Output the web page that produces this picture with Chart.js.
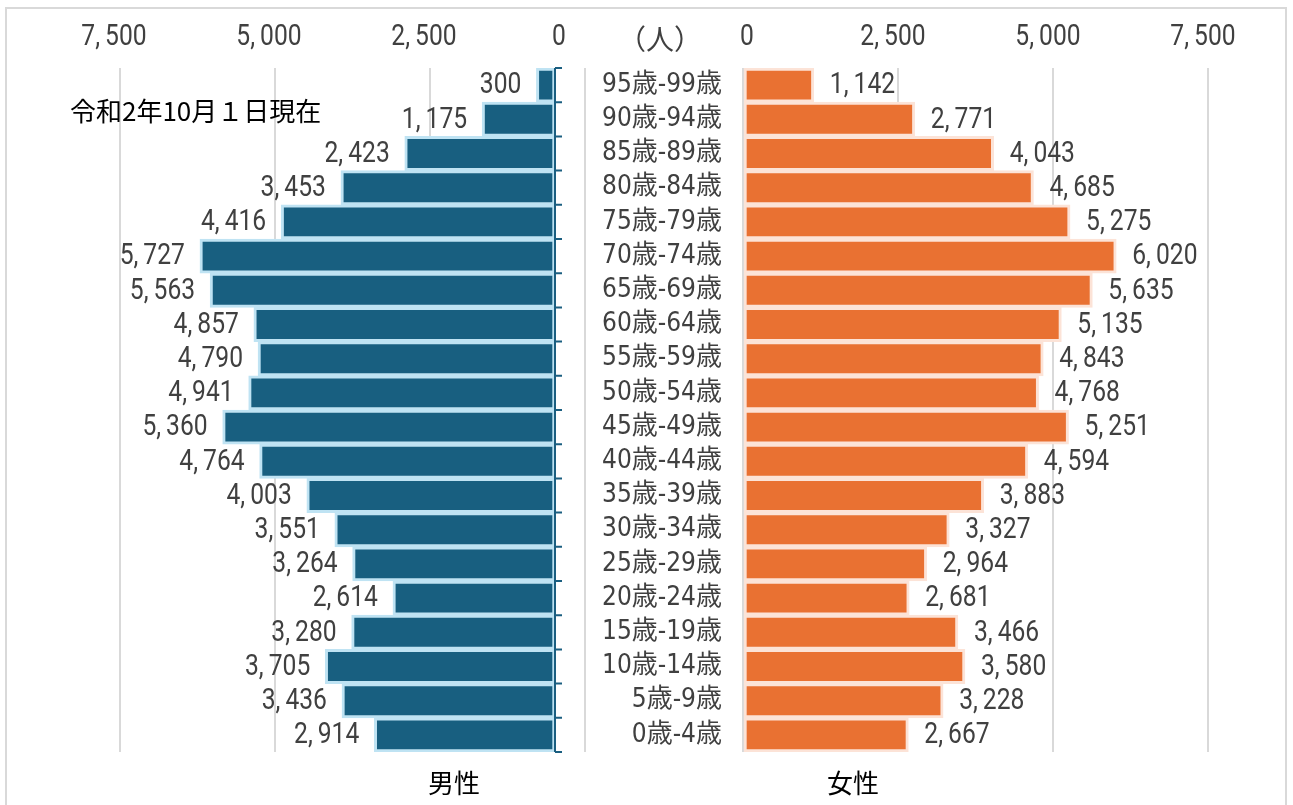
<!DOCTYPE html>
<html>
<head>
<meta charset="utf-8">
<script src="https://cdn.jsdelivr.net/npm/chart.js@4.4.0/dist/chart.umd.min.js"></script>
<style>
  html, body { margin: 0; padding: 0; background: #fff; }
  #wrap { position: relative; width: 1293px; height: 805px; overflow: hidden; background: #fff; }
  #frame { position: absolute; left: 5px; top: 7px; width: 1282px; height: 820px; border: 2px solid #d9d9d9; box-sizing: border-box; }
  #cl { position: absolute; left: 0; top: 0; }
  #cr { position: absolute; left: 580px; top: 0; }
  .t { position: absolute; white-space: nowrap; font-family: 'Noto Sans CJK JP', sans-serif; line-height: 1; }
</style>
</head>
<body>
<div id="wrap">
  <div id="frame"></div>
  <canvas id="cl" width="590" height="805"></canvas>
  <canvas id="cr" width="713" height="805"></canvas>
  <div class="t" style="left:70px; top:97px; font-size:26px; color:#000;">令和2年10月１日現在</div>
  <div class="t" style="left:618px; top:24px; font-size:28px; color:#404040;">（人）</div>
  <div class="t" style="left:428px; top:769px; font-size:26px; color:#000;">男性</div>
  <div class="t" style="left:827px; top:769px; font-size:26px; color:#000;">女性</div>
</div>
<script>
const ageGroups = ['95歳-99歳','90歳-94歳','85歳-89歳','80歳-84歳','75歳-79歳','70歳-74歳','65歳-69歳','60歳-64歳','55歳-59歳','50歳-54歳','45歳-49歳','40歳-44歳','35歳-39歳','30歳-34歳','25歳-29歳','20歳-24歳','15歳-19歳','10歳-14歳','5歳-9歳','0歳-4歳'];
const maleValues = [300,1175,2423,3453,4416,5727,5563,4857,4790,4941,5360,4764,4003,3551,3264,2614,3280,3705,3436,2914];
const femaleValues = [1142,2771,4043,4685,5275,6020,5635,5135,4843,4768,5251,4594,3883,3327,2964,2681,3466,3580,3228,2667];
const xTicks = [0, 2500, 5000, 7500];

const TXT = '#404040';
const NUM_FONT = "29px Roboto, 'Noto Sans', sans-serif";
const SQUEEZE = 0.85;
const fmt = v => Math.round(v).toLocaleString('en-US').replace(',', ',\u2009');

function drawNum(ctx, text, x, y, align) {
  ctx.save();
  ctx.translate(x, y);
  ctx.scale(SQUEEZE, 1);
  ctx.font = NUM_FONT;
  ctx.fillStyle = TXT;
  ctx.textBaseline = 'middle';
  ctx.textAlign = align;
  ctx.fillText(text, 0, 0);
  ctx.restore();
}

function labelPlugin(side) {
  return {
    id: 'valLabels' + side,
    afterDatasetsDraw(chart) {
      const ctx = chart.ctx;
      const meta = chart.getDatasetMeta(0);
      const data = chart.data.datasets[0].data;
      meta.data.forEach((el, i) => {
        if (side === 'L') drawNum(ctx, fmt(data[i]), el.x - 15, el.y + 1, 'right');
        else drawNum(ctx, fmt(data[i]), el.x + 16, el.y + 1, 'left');
      });
    }
  };
}

function tickPlugin(gridScaleId, zeroScaleId, shift) {
  return {
    id: 'tickLabels' + gridScaleId,
    afterDraw(chart) {
      const ctx = chart.ctx;
      const gs = chart.scales[gridScaleId];
      const zs = chart.scales[zeroScaleId];
      xTicks.forEach(v => {
        const px = (v === 0) ? zs.getPixelForValue(0) + 4 : gs.getPixelForValue(v) + shift;
        drawNum(ctx, fmt(v), px, 38, 'center');
      });
    }
  };
}

const axisPlugin = {
  id: 'leftAxis',
  afterDatasetsDraw(chart) {
    const ctx = chart.ctx;
    const xs = chart.scales.x, ys = chart.scales.y;
    const x0 = xs.getPixelForValue(0);
    ctx.save();
    ctx.strokeStyle = '#1a5e80';
    ctx.lineWidth = 2;
    ctx.beginPath();
    ctx.moveTo(x0, ys.top); ctx.lineTo(x0, ys.bottom);
    const n = ageGroups.length;
    for (let i = 0; i <= n; i++) {
      const y = ys.top + (ys.bottom - ys.top) * i / n;
      ctx.moveTo(x0, y); ctx.lineTo(x0 + 7, y);
    }
    ctx.stroke();
    ctx.restore();
  }
};

Chart.defaults.animation = false;
Chart.defaults.color = TXT;

new Chart(document.getElementById('cl'), {
  type: 'bar',
  data: {
    labels: ageGroups,
    datasets: [{
      data: maleValues,
      backgroundColor: '#185f80',
      borderColor: '#bfe3f3',
      borderWidth: 3,
      borderSkipped: false,
      barPercentage: 1,
      categoryPercentage: 1,
      xAxisID: 'x'
    }]
  },
  options: {
    responsive: false,
    indexAxis: 'y',
    layout: { padding: { left: 90, right: 5, top: 0, bottom: 53 } },
    plugins: { legend: { display: false }, tooltip: { enabled: false } },
    scales: {
      x: { display: false, reverse: true, min: -484, max: 7500 },
      xg: {
        axis: 'x', position: 'top', reverse: true, min: 0, max: 7984,
        afterBuildTicks: s => { s.ticks = xTicks.map(v => ({ value: v })); },
        afterFit: s => { s.height = 68; },
        ticks: { display: false },
        grid: { color: '#d9d9d9', lineWidth: 2, drawTicks: false },
        border: { display: false }
      },
      y: { display: false }
    }
  },
  plugins: [labelPlugin('L'), axisPlugin, tickPlugin('xg', 'x', -6)]
});

new Chart(document.getElementById('cr'), {
  type: 'bar',
  data: {
    labels: ageGroups,
    datasets: [{
      data: femaleValues,
      backgroundColor: '#e97132',
      borderColor: '#fce3d7',
      borderWidth: 3,
      borderSkipped: false,
      barPercentage: 1,
      categoryPercentage: 1
    }]
  },
  options: {
    responsive: false,
    indexAxis: 'y',
    layout: { padding: { left: 0, right: 54, top: 0, bottom: 53 } },
    plugins: { legend: { display: false }, tooltip: { enabled: false } },
    scales: {
      x: {
        position: 'top', min: 0, max: 8000,
        afterBuildTicks: s => { s.ticks = xTicks.map(v => ({ value: v })); },
        afterFit: s => { s.height = 68; },
        ticks: { display: false },
        grid: { color: '#d9d9d9', lineWidth: 2, drawTicks: false },
        border: { display: false }
      },
      y: {
        afterFit: s => { s.width = 163; },
        ticks: { font: { size: 26, family: "'Liberation Sans Narrow', 'DejaVu Sans Condensed', 'Noto Sans CJK JP', sans-serif" }, padding: 21, color: TXT },
        grid: { display: false, drawTicks: false },
        border: { display: false }
      }
    }
  },
  plugins: [labelPlugin('R'), tickPlugin('x', 'x', -5)]
});
</script>
</body>
</html>
